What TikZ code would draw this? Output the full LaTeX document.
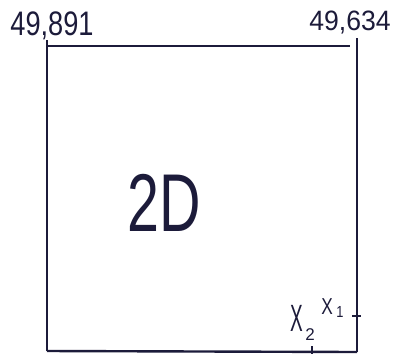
\documentclass[tikz,border=0pt]{standalone}
\usepackage{fontspec}
\setmainfont{Liberation Sans}
\definecolor{ink}{HTML}{1C1B3A}
\begin{document}
\begin{tikzpicture}[x=1pt,y=-1pt,
  edge/.style={draw=ink,line width=2.4pt},
  tick/.style={draw=ink,line width=1.8pt},
  lab/.style={text=ink,inner sep=0pt,anchor=center}]
\useasboundingbox (0,0) rectangle (401,354);
\coordinate (lt) at (47,40);
\coordinate (lb) at (47,351);
\coordinate (tl) at (46,46);
\coordinate (tr) at (350,46);
\coordinate (rt) at (357,38);
\coordinate (rb) at (357,352);
\coordinate (bt) at (312,346);
\coordinate (bb) at (312,354);
\coordinate (rl) at (352,316);
\coordinate (rr) at (361,316);
\draw[edge] (lt) -- (lb);
\draw[edge] (tl) -- (tr);
\draw[edge] (rt) -- (rb);
\draw[edge] (lb) -- (rb);
\draw[tick] (bt) -- (bb);
\draw[tick] (rl) -- (rr);
\node[lab,font=\fontsize{34}{34}\selectfont,xscale=0.8] (a) at (52,26) {49,891};
\node[lab,font=\fontsize{28}{28}\selectfont,xscale=0.95] (b) at (350,23) {49,634};
\node[lab,font=\fontsize{82}{82}\selectfont,xscale=0.7] (c) at (164,203) {2D};
\node[lab,font=\fontsize{38}{38}\selectfont,xscale=0.5] (x2) at (297,318) {X};
\node[lab,font=\fontsize{17}{17}\selectfont] (s2) at (310,335) {2};
\node[lab,font=\fontsize{23}{23}\selectfont,xscale=0.75] (x1) at (327,307) {X};
\node[lab,font=\fontsize{16}{16}\selectfont,xscale=0.8] (s1) at (340,312) {1};
\end{tikzpicture}
\end{document}
